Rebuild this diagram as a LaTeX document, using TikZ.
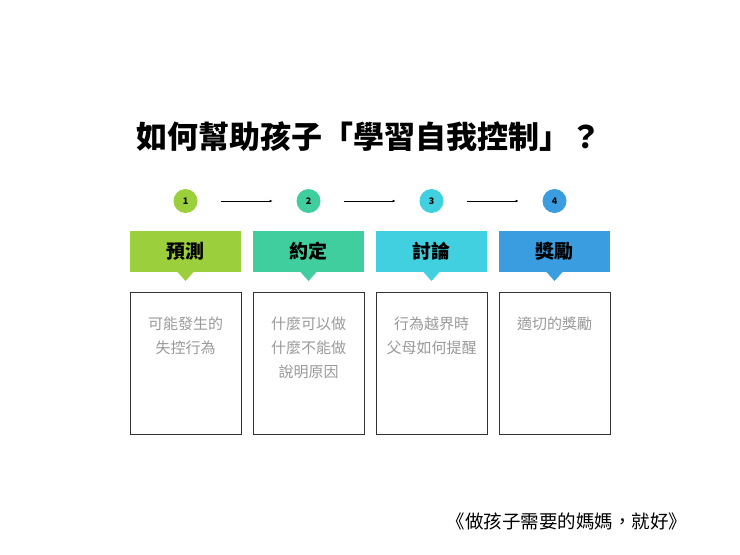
\documentclass[tikz,border=0pt]{standalone}
\usepackage{fontspec}
\setmainfont{Noto Sans CJK TC}
\usetikzlibrary{arrows.meta}
\definecolor{cA}{HTML}{9BCF3C}
\definecolor{cB}{HTML}{40CE9E}
\definecolor{cC}{HTML}{40D0DF}
\definecolor{cD}{HTML}{3A9DE0}
\definecolor{txtg}{HTML}{999999}
\begin{document}
\begin{tikzpicture}[x=1pt,y=-1pt,
  num/.style={circle,minimum size=24pt,inner sep=0,font=\fontsize{9}{10}\selectfont\bfseries},
  head/.style={minimum width=111pt,minimum height=41pt,inner sep=0,font=\fontsize{19}{22}\selectfont\bfseries},
  body/.style={draw=black!80,line width=0.6pt,minimum width=111pt,minimum height=142pt,anchor=north,inner sep=0},
  conn/.style={-{Latex[length=3pt,width=2.5pt]},line width=0.6pt}]
\useasboundingbox (0,0) rectangle (740,555);
\node (title) at (369,137) {\fontsize{31}{34}\selectfont\bfseries 如何幫助孩子「學習自我控制」？};
\foreach \i/\x/\c/\h/\b in {1/185.5/cA/預測/{可能發生的\\失控行為},2/308.5/cB/約定/{什麼可以做\\什麼不能做\\說明原因},3/431.5/cC/討論/{行為越界時\\父母如何提醒},4/554.5/cD/獎勵/{適切的獎勵}}{
  \node[num,fill=\c] (n\i) at (\x,201) {\i};
  \node[head,fill=\c] (h\i) at (\x,251.5) {\h};
  \fill[\c] (\x-8,272) -- (\x+8,272) -- (\x,281) -- cycle;
  \node[body] (b\i) at (\x,292) {};
  \node[text=txtg,font=\fontsize{15}{24}\selectfont,align=center,anchor=north] (t\i) at (\x,313) {\b};
}
\draw[conn] (n1.east)++(23,0) -- ++(52,0);
\draw[conn] (n2.east)++(23,0) -- ++(52,0);
\draw[conn] (n3.east)++(23,0) -- ++(52,0);
\node[anchor=east] (foot) at (691,521) {\fontsize{18.5}{21}\selectfont《做孩子需要的媽媽，就好》};
\end{tikzpicture}
\end{document}
